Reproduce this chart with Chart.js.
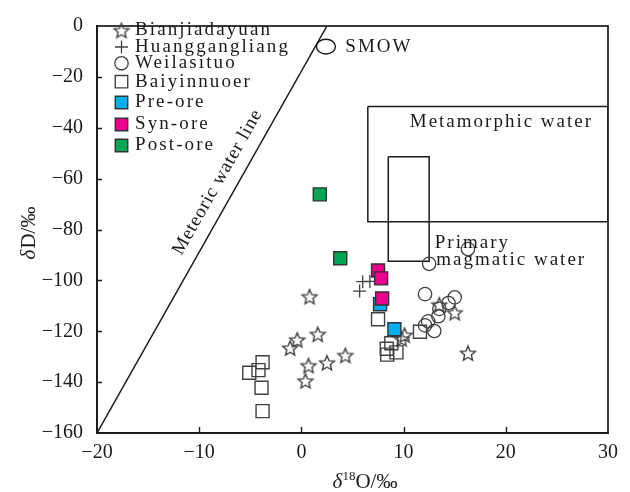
<!DOCTYPE html>
<html>
<head>
<meta charset="utf-8">
<script src="https://cdn.jsdelivr.net/npm/chart.js@4.4.1/dist/chart.umd.min.js"></script>
<style>
  html, body { margin: 0; padding: 0; background: #fff; }
</style>
</head>
<body>
<canvas id="chartCanvas" width="630" height="492"></canvas>
<script>
// ---------- axis ranges & ticks ----------
const X_MIN = -20, X_MAX = 30, X_STEP = 10;
const Y_MIN = -160, Y_MAX = 0, Y_STEP = 20;

// ---------- samples: δ18O (x) and δD (y) ----------
const bianjiadayuanO = [0.8, 1.6, -0.4, -1.1, 4.3, 2.5, 0.7, 0.4, 9.8, 10.1, 13.5, 15.0, 16.3];
const bianjiadayuanD = [-106.4, -121.2, -123.4, -126.6, -129.5, -132.4, -133.5, -139.5, -123.0, -121.5, -109.6, -112.7, -128.6];

const huanggangliangO = [5.7, 6.0, 6.7];
const huanggangliangD = [-104.2, -100.5, -100.4];

const weilasituoO = [12.5, 16.3, 12.1, 15.0, 14.4, 13.5, 13.4, 12.4, 12.1, 13.0];
const weilasituoD = [-93.5, -87.7, -105.4, -106.7, -108.9, -111.2, -114.1, -116.1, -117.7, -119.9];

const baiyinnuoerO = [-3.8, -4.2, -5.1, -3.9, -3.8, 7.5, 11.6, 8.8, 9.3, 8.35, 8.4];
const baiyinnuoerD = [-132.2, -135.3, -136.3, -142.2, -151.4, -115.3, -120.2, -124.7, -128.3, -126.9, -129.2];

const preOreO = [7.7, 9.1];
const preOreD = [-109.4, -119.2];

const synOreO = [7.5, 7.8, 7.9];
const synOreD = [-96.1, -99.2, -107.1];

const postOreO = [1.8, 3.8];
const postOreD = [-66.2, -91.3];

// ---------- reference fields ----------
const meteoricLineO = [-20, 2.5];
const meteoricLineD = [-160, 0];

const metamorphicO = [6.5, 30, 30, 6.5, 6.5];
const metamorphicD = [-31.6, -31.6, -77, -77, -31.6];

const magmaticO = [8.5, 12.5, 12.5, 8.5, 8.5];
const magmaticD = [-51.4, -51.4, -92.5, -92.5, -51.4];

const smowCenter = [2.4, -8.1];
const smowRadius = [0.93, 2.9];

const SERIF = "'Liberation Serif', 'Times New Roman', serif";
const INK = "#1a1a1a";
const MARK = "#404040";

function pts(xs, ys) {
  return xs.map((x, i) => ({ x, y: ys[i] }));
}

// five-pointed open star used as point style
function makeStar(R) {
  const size = Math.ceil(R * 2 + 4);
  const c = document.createElement("canvas");
  c.width = c.height = size;
  const g = c.getContext("2d");
  const cx = size / 2, cy = size / 2 + 0.7, r = R * 0.45;
  g.beginPath();
  for (let i = 0; i < 10; i++) {
    const a = -Math.PI / 2 + i * Math.PI / 5;
    const rr = i % 2 ? r : R;
    g.lineTo(cx + rr * Math.cos(a), cy + rr * Math.sin(a));
  }
  g.closePath();
  g.strokeStyle = MARK;
  g.lineWidth = 1.4;
  g.stroke();
  return c;
}
const starImg = makeStar(7.8);

function squareSet(label, xs, ys, fill, edge, order) {
  return {
    label, data: pts(xs, ys), order, inLegend: true,
    pointStyle: "rect", pointRadius: 9.2, pointHoverRadius: 9.2,
    pointBackgroundColor: fill, pointBorderColor: edge, pointBorderWidth: 1.4,
    showLine: false
  };
}

function fieldSet(xs, ys) {
  return {
    data: pts(xs, ys), showLine: true, pointRadius: 0, pointHoverRadius: 0,
    borderColor: INK, borderWidth: 1.5, fill: false, order: 20
  };
}

const datasets = [
  {
    label: "Bianjiadayuan", data: pts(bianjiadayuanO, bianjiadayuanD), order: 6, inLegend: true,
    pointStyle: starImg, pointRadius: 7, showLine: false
  },
  {
    label: "Huanggangliang", data: pts(huanggangliangO, huanggangliangD), order: 7, inLegend: true,
    pointStyle: "cross", pointRadius: 6.5, pointBorderColor: MARK, pointBorderWidth: 1.3, showLine: false
  },
  {
    label: "Weilasituo", data: pts(weilasituoO, weilasituoD), order: 8, inLegend: true,
    pointStyle: "circle", pointRadius: 6.7, pointBackgroundColor: "rgba(0,0,0,0)",
    pointBorderColor: MARK, pointBorderWidth: 1.3, showLine: false
  },
  squareSet("Baiyinnuoer", baiyinnuoerO, baiyinnuoerD, "rgba(0,0,0,0)", MARK, 9),
  squareSet("Pre-ore", preOreO, preOreD, "#00aeef", "#333333", 3),
  squareSet("Syn-ore", synOreO, synOreD, "#ec008c", "#333333", 2),
  squareSet("Post-ore", postOreO, postOreD, "#00a651", "#333333", 1),
  fieldSet(meteoricLineO, meteoricLineD),
  fieldSet(metamorphicO, metamorphicD),
  fieldSet(magmaticO, magmaticD)
];

const minus = v => String(v).replace("-", "\u2212");

function toPx(chart, x, y) {
  return [chart.scales.x.getPixelForValue(x), chart.scales.y.getPixelForValue(y)];
}

function spacedText(ctx, text, x, y, size, spacing, align) {
  ctx.font = size + "px " + SERIF;
  ctx.letterSpacing = spacing + "px";
  ctx.textAlign = align || "left";
  ctx.textBaseline = "middle";
  ctx.fillText(text, x, y);
  ctx.letterSpacing = "0px";
}

// frame, inward ticks, titles, field labels and the legend
const decorPlugin = {
  id: "decor",
  afterDatasetsDraw(chart) {
    const ctx = chart.ctx;
    const a = chart.chartArea;
    const sx = chart.scales.x, sy = chart.scales.y;
    ctx.save();

    // SMOW ellipse
    const [cx, cy] = toPx(chart, smowCenter[0], smowCenter[1]);
    const rx = Math.abs(sx.getPixelForValue(smowCenter[0] + smowRadius[0]) - cx);
    const ry = Math.abs(sy.getPixelForValue(smowCenter[1] + smowRadius[1]) - cy);
    ctx.beginPath();
    ctx.ellipse(cx, cy, rx, ry, 0, 0, Math.PI * 2);
    ctx.strokeStyle = INK;
    ctx.lineWidth = 1.4;
    ctx.stroke();

    // box
    ctx.lineWidth = 1.7;
    ctx.strokeRect(a.left, a.top, a.right - a.left, a.bottom - a.top);

    // inward ticks
    ctx.lineWidth = 1.4;
    ctx.beginPath();
    sx.ticks.forEach(t => {
      if (t.value === X_MIN || t.value === X_MAX) return;
      const px = Math.round(sx.getPixelForValue(t.value)) + 0.5;
      ctx.moveTo(px, a.bottom);
      ctx.lineTo(px, a.bottom - 6);
    });
    sy.ticks.forEach(t => {
      if (t.value === Y_MIN || t.value === Y_MAX) return;
      const py = Math.round(sy.getPixelForValue(t.value)) + 0.5;
      ctx.moveTo(a.left, py);
      ctx.lineTo(a.left + 5, py);
    });
    ctx.stroke();

    ctx.fillStyle = INK;

    // meteoric water line label, rotated along the line
    const [lx1, ly1] = toPx(chart, meteoricLineO[0], meteoricLineD[0]);
    const [lx2, ly2] = toPx(chart, meteoricLineO[1], meteoricLineD[1]);
    const ang = Math.atan2(ly2 - ly1, lx2 - lx1);
    const [mx, my] = toPx(chart, -8.2, -61.4);
    ctx.save();
    ctx.translate(mx, my);
    ctx.rotate(ang);
    spacedText(ctx, "Meteoric water line", 0, 0, 19, 0.8, "center");
    ctx.restore();

    let p = toPx(chart, 4.3, -8.1);
    spacedText(ctx, "SMOW", p[0], p[1], 19, 2);
    p = toPx(chart, 10.6, -37.8);
    spacedText(ctx, "Metamorphic water", p[0], p[1], 19, 2);
    p = toPx(chart, 13.05, -85.4);
    spacedText(ctx, "Primary", p[0], p[1], 19, 2);
    p = toPx(chart, 13.2, -91.9);
    spacedText(ctx, "magmatic water", p[0], p[1], 19, 2);

    // legend
    const rowsY = [30.5, 47, 63.3, 81.7, 102.5, 124.5, 145.5];
    const symX = 121.5, textX = 135;
    chart.data.datasets.filter(d => d.inLegend).forEach((d, i) => {
      const y = rowsY[i];
      ctx.save();
      ctx.fillStyle = d.pointBackgroundColor || "rgba(0,0,0,0)";
      ctx.strokeStyle = d.pointBorderColor || MARK;
      ctx.lineWidth = d.pointBorderWidth || 1.3;
      Chart.helpers.drawPoint(ctx, {
        pointStyle: d.pointStyle,
        radius: d.pointStyle === "rect" ? 8.8 : d.pointRadius,
        rotation: 0,
        borderWidth: d.pointBorderWidth || 1.3
      }, symX, y);
      ctx.restore();
      ctx.fillStyle = INK;
      spacedText(ctx, d.label, textX, y, 19, 2.1);
    });

    // axis titles
    ctx.save();
    ctx.translate(29, 233);
    ctx.rotate(-Math.PI / 2);
    ctx.textBaseline = "middle";
    ctx.textAlign = "left";
    ctx.font = "italic 21px " + SERIF;
    let w1 = ctx.measureText("\u03b4").width;
    ctx.font = "21px " + SERIF;
    let w2 = ctx.measureText("D/\u2030").width;
    let x0 = -(w1 + w2 + 1) / 2;
    ctx.font = "italic 21px " + SERIF;
    ctx.fillText("\u03b4", x0, 0);
    ctx.font = "21px " + SERIF;
    ctx.fillText("D/\u2030", x0 + w1 + 1, 0);
    ctx.restore();

    ctx.textBaseline = "alphabetic";
    ctx.textAlign = "left";
    ctx.font = "italic 21px " + SERIF;
    w1 = ctx.measureText("\u03b4").width;
    ctx.font = "13px " + SERIF;
    const w18 = ctx.measureText("18").width;
    ctx.font = "21px " + SERIF;
    w2 = ctx.measureText("O/\u2030").width;
    x0 = 365 - (w1 + w18 + w2) / 2;
    const base = 488;
    ctx.font = "italic 21px " + SERIF;
    ctx.fillText("\u03b4", x0, base);
    ctx.font = "13px " + SERIF;
    ctx.fillText("18", x0 + w1, base - 8);
    ctx.font = "21px " + SERIF;
    ctx.fillText("O/\u2030", x0 + w1 + w18, base);

    ctx.restore();
  }
};

const chart = new Chart(document.getElementById("chartCanvas").getContext("2d"), {
  type: "scatter",
  data: { datasets },
  plugins: [decorPlugin],
  options: {
    responsive: false,
    animation: false,
    events: [],
    layout: { padding: { top: 19, right: 22, left: 0, bottom: 0 } },
    plugins: { legend: { display: false }, tooltip: { enabled: false } },
    scales: {
      x: {
        type: "linear", min: X_MIN, max: X_MAX,
        afterFit: s => { s.height = 59; },
        afterBuildTicks: s => {
          s.ticks = [];
          for (let v = X_MIN; v <= X_MAX; v += X_STEP) s.ticks.push({ value: v });
        },
        grid: { display: false, drawTicks: false },
        border: { display: true, color: INK, width: 1.7 },
        ticks: {
          color: INK, padding: 8,
          font: { family: SERIF, size: 20 },
          callback: v => minus(v)
        }
      },
      y: {
        type: "linear", min: Y_MIN, max: Y_MAX,
        afterFit: s => { s.width = 97; },
        afterBuildTicks: s => {
          s.ticks = [];
          for (let v = Y_MIN; v <= Y_MAX; v += Y_STEP) s.ticks.push({ value: v });
        },
        grid: { display: false, drawTicks: false },
        border: { display: true, color: INK, width: 1.7 },
        ticks: {
          color: INK, padding: 14,
          font: { family: SERIF, size: 20 },
          callback: v => minus(v)
        }
      }
    }
  }
});
</script>
</body>
</html>
